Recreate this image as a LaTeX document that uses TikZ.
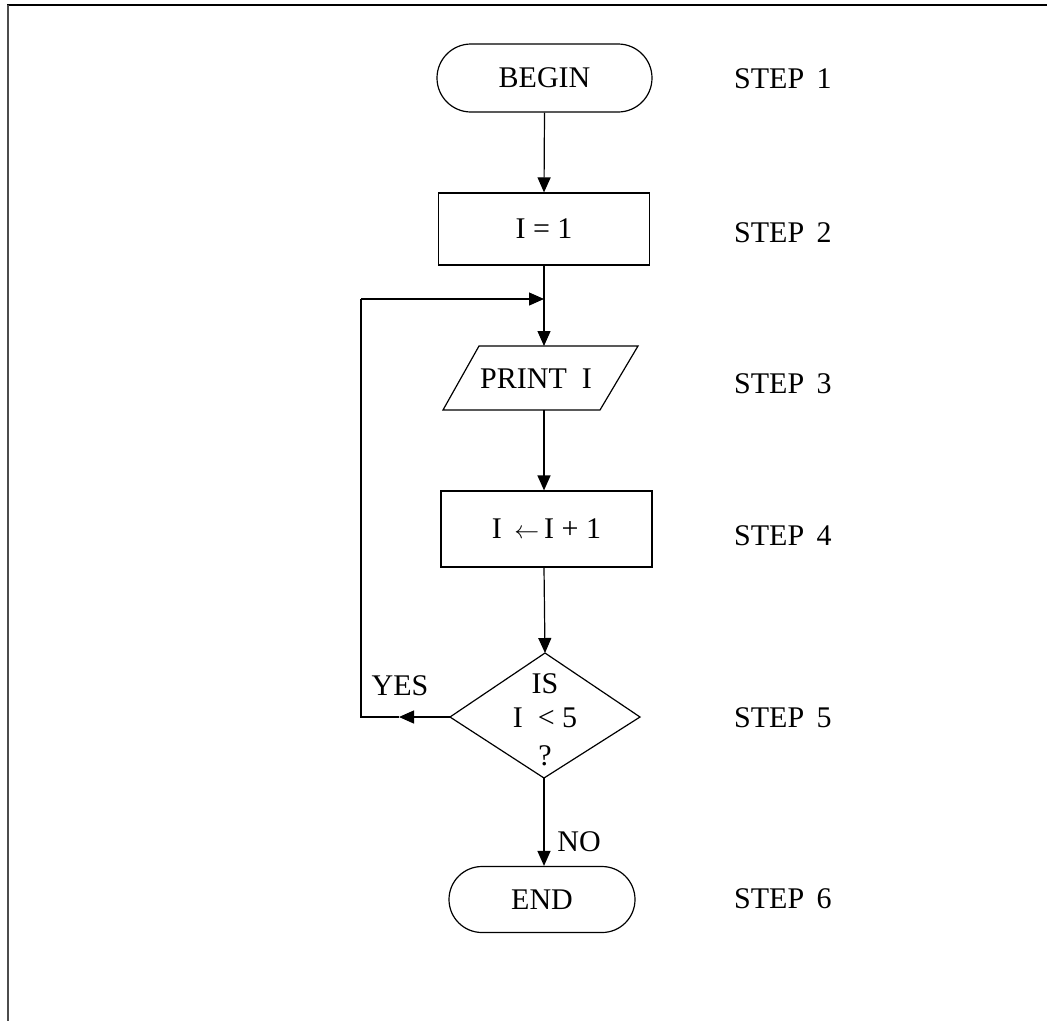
\documentclass[tikz,border=0pt]{standalone}
\usepackage{fontspec}
\setmainfont{Liberation Serif}
\usetikzlibrary{arrows.meta,shapes.misc}
\begin{document}
\begin{tikzpicture}[x=1pt,y=-1pt,
  every node/.style={font=\fontsize{30}{34}\selectfont, inner sep=0pt},
  ln/.style={line width=1.2pt},
  arr/.style={ln,-{Triangle[length=15pt,width=13pt]}},
  term/.style={rounded rectangle, draw, ln},
  procbox/.style={rectangle, draw, ln},
  lbl/.style={anchor=west}]
\useasboundingbox (0,0) rectangle (1047,1021);
% frame
\draw[line width=2.5pt] (7,5) -- (1047,5);
\draw[line width=2.5pt, black!70] (8,5) -- (8,1021);

% nodes
\node[term, minimum width=215pt, minimum height=68pt] (begin) at (544.5,78) {BEGIN};
\node[procbox, minimum width=211pt, minimum height=72pt] (init) at (544,229) {I = 1};
\coordinate (ptl) at (479,346);
\coordinate (ptr) at (638,346);
\coordinate (pbr) at (600,410);
\coordinate (pbl) at (443,410);
\draw[ln] (ptl) -- (ptr) -- (pbr) -- (pbl) -- cycle;
\node (print) at (536,379) {PRINT\ \ I};
\coordinate (ptop) at (544,346);
\coordinate (pbot) at (544,410);
\node[procbox, minimum width=211pt, minimum height=76pt] (inc) at (546.5,529) {I\ \,$\leftarrow$\,I + 1};
\coordinate (dt) at (545,653);
\coordinate (dr) at (640,717);
\coordinate (db) at (544,778);
\coordinate (dl) at (450,717);
\draw[ln] (dt) -- (dr) -- (db) -- (dl) -- cycle;
\node (is) at (545,684) {IS};
\node (cond) at (545,718) {I\ \ {<} 5};
\node (q) at (545,756) {?};
\node[term, minimum width=186pt, minimum height=66pt] (endn) at (542,899.5) {END};

% step labels
\node[lbl] (s1) at (734,79) {STEP\ \,1};
\node[lbl] (s2) at (734,233) {STEP\ \,2};
\node[lbl] (s3) at (734,384) {STEP\ \,3};
\node[lbl] (s4) at (734,536) {STEP\ \,4};
\node[lbl] (s5) at (734,718) {STEP\ \,5};
\node[lbl] (s6) at (734,899) {STEP\ \,6};

% connectors
\draw[arr] (begin.south) -- (init.north);
\coordinate (join) at (544,299);
\draw[ln] (init.south) -- (join);
\draw[arr] (join) -- (ptop);
\draw[arr] (pbot) -- (pbot |- inc.north);
\draw[arr] (pbot |- inc.south) -- (dt);
\coordinate (ymid) at (399,717);
\coordinate (lc) at (361,717);
\coordinate (lt) at (361,299);
\draw[arr] (dl) -- (ymid);
\draw[ln] (ymid) -- (lc) -- (lt);
\draw[arr] (lt) -- (join);
\draw[arr] (db) -- (endn.north -| db);
\node (yes) at (400,686) {YES};
\node (no) at (579,842) {NO};
\end{tikzpicture}
\end{document}
